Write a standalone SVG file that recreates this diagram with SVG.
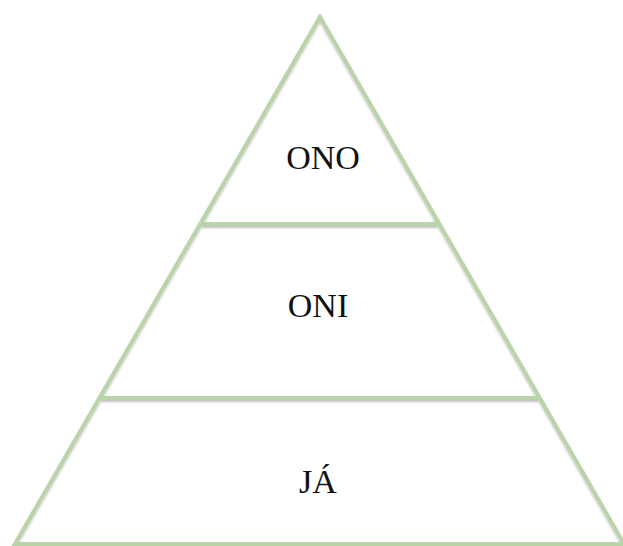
<svg xmlns="http://www.w3.org/2000/svg" width="623" height="546" viewBox="0 0 623 546">
<style>
.edge{fill:none;stroke:#b8d4a8;stroke-width:4;stroke-linejoin:miter}
.lbl{font-family:"Liberation Serif",serif;font-size:34px;fill:#111;text-anchor:middle}
</style>
<defs>
<filter id="sh" x="-5%" y="-5%" width="110%" height="110%">
<feGaussianBlur in="SourceAlpha" stdDeviation="1"/>
<feOffset dx="0" dy="1.5" result="b"/>
<feComponentTransfer><feFuncA type="linear" slope="0.25"/></feComponentTransfer>
<feMerge><feMergeNode/><feMergeNode in="SourceGraphic"/></feMerge>
</filter>
</defs>
<rect width="623" height="546" fill="#fff"/>
<g id="connectors" filter="url(#sh)">
<polygon class="edge" points="320,17 15,544 624,544"/>
<line class="edge" x1="201" y1="224" x2="439" y2="224"/>
<line class="edge" x1="100" y1="398" x2="541" y2="398"/>
</g>
<g id="node-ono"><text class="lbl" x="323" y="169">ONO</text></g>
<g id="node-oni"><text class="lbl" x="318" y="317">ONI</text></g>
<g id="node-ja"><text class="lbl" x="318" y="493">JÁ</text></g>
</svg>
